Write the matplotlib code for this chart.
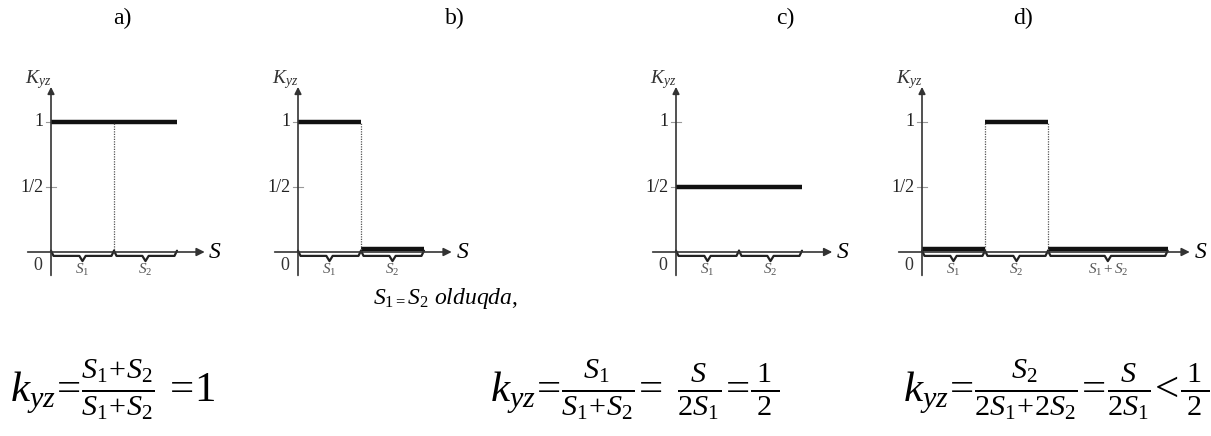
import matplotlib
matplotlib.use("Agg")
import matplotlib.pyplot as plt
import numpy as np

plt.rcParams["font.family"] = ["Liberation Serif", "DejaVu Serif"]
plt.rcParams["mathtext.fontset"] = "custom"
plt.rcParams["mathtext.rm"] = "Liberation Serif"
plt.rcParams["mathtext.it"] = "Liberation Serif:italic"
plt.rcParams["mathtext.bf"] = "Liberation Serif:bold"

# panel data: segment lengths (in S1 units) and K_yz level on each segment
panel_titles = ["a)", "b)", "c)", "d)"]
seg_lengths = [[1, 1], [1, 1], [1, 1], [1, 1, 1.9]]
seg_levels = [[1, 1], [1, 0], [0.5, 0.5], [0, 1, 0]]
seg_labels = [[r"$S_{\mathit{1}}$", r"$S_2$"],
              [r"$S_{\mathit{1}}$", r"$S_2$"],
              [r"$S_{\mathit{1}}$", r"$S_2$"],
              [r"$S_{\mathit{1}}$", r"$S_2$", r"$S_{\mathit{1}}+S_2$"]]
dotted_bounds = [[1], [1], [], [1, 2]]
ytick_vals = [1, 0.5]
ytick_labels = ["1", "1/2"]

formulas = [
    r"$k_{yz}\!=\!\frac{S_{\mathit{1}}\!+\!S_2}{S_{\mathit{1}}\!+\!S_2}\,=\!\mathit{1}$",
    r"$k_{yz}\!=\!\frac{S_{\mathit{1}}}{S_{\mathit{1}}\!+\!S_2}\!=\;\frac{\;\;S\;\;}{2S_{\mathit{1}}}\!=\!\frac{\;1\;}{2}$",
    r"$k_{yz}\!=\!\frac{S_2}{2S_{\mathit{1}}\!+\!2S_2}\!=\!\frac{S}{2S_{\mathit{1}}}\!<\!\frac{\;1\;}{2}$",
]

W, H = 1211, 436
fig = plt.figure(figsize=(W / 100, H / 100), dpi=100)
fig.patch.set_facecolor("white")

# layout in pixels
origin_x = [51, 298, 676, 922]
origin_y = 252
ux, uy = 63, 130
arrow_ext = [0.44, 0.44, 0.48, 0.35]
title_x = [122, 455, 785, 1023]
x_lo, y_lo, y_hi = -0.8, -0.4, 1.55


def brace(ax, x0, x1, y, d=0.04):
    xm = (x0 + x1) / 2
    xs = [x0, x0 + 0.04, xm - 0.05, xm, xm + 0.05, x1 - 0.04, x1]
    ys = [y + d, y, y, y - d, y, y, y + d]
    ax.plot(xs, ys, color="#222222", lw=1.6, solid_capstyle="round")


for i in range(4):
    total = sum(seg_lengths[i])
    x_hi = total + 1.0
    left = (origin_x[i] + x_lo * ux) / W
    bottom = (H - (origin_y - y_lo * uy)) / H
    ax = fig.add_axes([left, bottom, (x_hi - x_lo) * ux / W, (y_hi - y_lo) * uy / H])
    ax.set_xlim(x_lo, x_hi)
    ax.set_ylim(y_lo, y_hi)
    ax.axis("off")

    # axes with arrows
    x_end = total + arrow_ext[i]
    ax.annotate("", xy=(x_end, 0), xytext=(-0.37, 0),
                arrowprops=dict(arrowstyle="-|>", color="#333333", lw=1.2,
                                mutation_scale=12, shrinkA=0, shrinkB=0))
    ax.annotate("", xy=(0, 1.27), xytext=(0, -0.18),
                arrowprops=dict(arrowstyle="-|>", color="#333333", lw=1.2,
                                mutation_scale=10, shrinkA=0, shrinkB=0))
    ax.text(x_end + 0.06, 0, "$S$", fontsize=17, ha="left", va="center")
    ax.text(-0.2, 1.33, "$K_{yz}$", fontsize=14, ha="center", va="center", color="#333333")
    ax.text(-0.2, -0.1, r"$\mathit{0}$", fontsize=13, ha="center", va="center", color="#333333")

    for v, lab in zip(ytick_vals, ytick_labels):
        ax.plot([-0.08, 0.08], [v, v], color="#999999", lw=0.8)
        ax.text(-0.12, v, lab, fontsize=13, ha="right", va="center", color="#222222")

    bounds = np.concatenate([[0], np.cumsum(seg_lengths[i])])
    for k in range(len(seg_levels[i])):
        lvl = seg_levels[i][k]
        yl = lvl if lvl > 0 else 0.025
        ax.plot([bounds[k], bounds[k + 1]], [yl, yl], color="#111111", lw=3.2,
                solid_capstyle="butt")
        brace(ax, bounds[k], bounds[k + 1], -0.03)
        ax.text((bounds[k] + bounds[k + 1]) / 2, -0.14, seg_labels[i][k], fontsize=11,
                ha="center", va="center", color="#555555")
    for b in dotted_bounds[i]:
        top = max(seg_levels[i][b - 1], seg_levels[i][b])
        ax.plot([bounds[b], bounds[b]], [0, top], color="#555555", lw=0.9, ls=(0, (1, 1)))

    fig.text(title_x[i] / W, 1 - 18 / H, panel_titles[i], fontsize=17, ha="center", va="center")

fig.text(445 / W, 1 - 298 / H, r"$S_{\mathit{1=}}S_2\ olduqda,$", fontsize=17,
         ha="center", va="center")

formula_x = [10, 490, 903]
for fx, f in zip(formula_x, formulas):
    fig.text(fx / W, 1 - 390 / H, f, fontsize=31, ha="left", va="center")

fig.savefig("out.png", dpi=100)
